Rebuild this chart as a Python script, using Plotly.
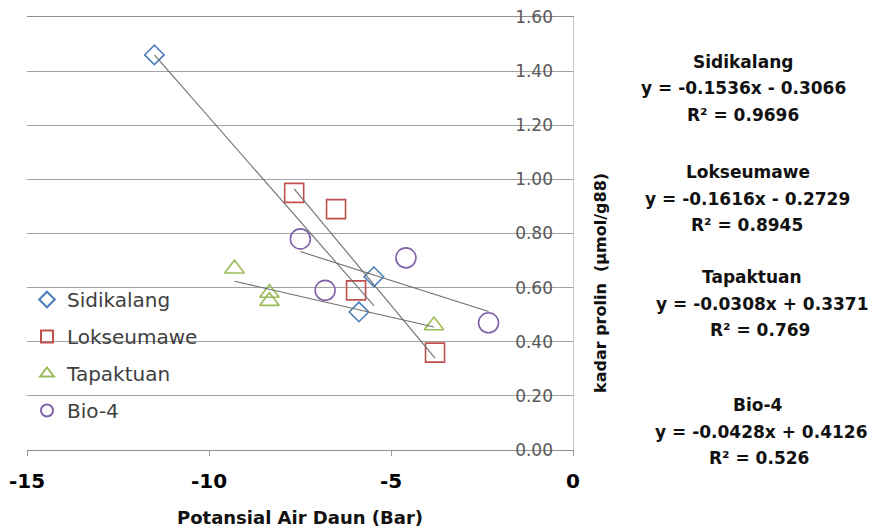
import plotly.graph_objects as go

# ---- data ----
series_names = ["Sidikalang", "Lokseumawe", "Tapaktuan", "Bio-4"]
sidikalang_x = [-11.5, -5.47, -5.88]
sidikalang_y = [1.46, 0.64, 0.51]
lokseumawe_x = [-7.66, -6.51, -5.96, -3.79]
lokseumawe_y = [0.95, 0.89, 0.59, 0.36]
tapaktuan_x = [-9.30, -8.34, -8.34, -3.82]
tapaktuan_y = [0.67, 0.58, 0.55, 0.46]
bio4_x = [-7.49, -6.81, -4.59, -2.32]
bio4_y = [0.78, 0.59, 0.71, 0.47]

slopes = [-0.1536, -0.1616, -0.0308, -0.0428]
intercepts = [-0.3066, -0.2729, 0.3371, 0.4126]
eq_texts = ["y = -0.1536x - 0.3066", "y = -0.1616x - 0.2729",
            "y = -0.0308x + 0.3371", "y = -0.0428x + 0.4126"]
r2_texts = ["R² = 0.9696", "R² = 0.8945", "R² = 0.769", "R² = 0.526"]

x_ticks = [-15, -10, -5, 0]
y_ticks = [0.0, 0.2, 0.4, 0.6, 0.8, 1.0, 1.2, 1.4, 1.6]

# ---- styles ----
colors = ["#4A7EBB", "#C0504D", "#9BBB59", "#7F63A8"]
symbols = ["diamond-open", "square-open", "triangle-up-open", "circle-open"]
sizes = [15, 19, 17, 20]

xs = [sidikalang_x, lokseumawe_x, tapaktuan_x, bio4_x]
ys = [sidikalang_y, lokseumawe_y, tapaktuan_y, bio4_y]

fig = go.Figure()
for i, name in enumerate(series_names):
    fig.add_trace(go.Scatter(
        x=xs[i], y=ys[i], mode="markers", name=name, legendgroup=name,
        marker=dict(symbol=symbols[i], size=sizes[i], color=colors[i],
                    line=dict(width=1.6, color=colors[i])),
    ))
# linear trendlines (from the fitted equations), drawn on the label axis y2 (same scale as y)
for i, name in enumerate(series_names):
    x0, x1 = min(xs[i]), max(xs[i])
    fig.add_trace(go.Scatter(
        x=[x0, x1], y=[slopes[i] * x0 + intercepts[i], slopes[i] * x1 + intercepts[i]],
        mode="lines", showlegend=False, hoverinfo="skip", yaxis="y2",
        line=dict(color="#6E6E6E", width=1.1),
    ))

L, R, T, B = 27, 306, 17, 78
W, H = 879, 528
pw, ph = W - L - R, H - T - B

def px_x(p):
    return (p - L) / pw

def px_y(p):
    return (H - B - p) / ph

bold = "DejaVu Sans"
annotations = []
block_titles_y = [62, 172, 277, 405]
block_x = [(743, 743, 743), (748, 747, 747), (752, 762, 760), (758, 761, 759)]
line_gap = 26.5
for i, name in enumerate(series_names):
    texts = [name, eq_texts[i], r2_texts[i]]
    for j, t in enumerate(texts):
        annotations.append(dict(
            text="<b>" + t + "</b>", xref="paper", yref="paper",
            x=px_x(block_x[i][j]), y=px_y(block_titles_y[i] + j * line_gap),
            xanchor="center", yanchor="middle", showarrow=False,
            font=dict(family=bold, size=17, color="#111111"),
        ))
annotations.append(dict(
    text="<b>kadar prolin  (µmol/g88)</b>", xref="paper", yref="paper",
    x=px_x(600), y=px_y(283), textangle=-90, showarrow=False,
    xanchor="center", yanchor="middle",
    font=dict(family=bold, size=16, color="#111111"),
))

fig.update_layout(
    width=W, height=H,
    margin=dict(l=L, r=R, t=T, b=B, autoexpand=False),
    paper_bgcolor="white", plot_bgcolor="white",
    font=dict(family="DejaVu Sans"),
    showlegend=True,
    legend=dict(
        x=0.0, y=px_y(280), xanchor="left", yanchor="top",
        bgcolor="rgba(0,0,0,0)", font=dict(family="DejaVu Sans", size=20, color="#404040"),
        tracegroupgap=8, itemsizing="constant",
    ),
    xaxis=dict(
        range=[-15, 0], tickvals=x_ticks, ticktext=[str(v) for v in x_ticks],
        showgrid=False, zeroline=False,
        showline=True, mirror=True, linecolor="#8E8E8E", linewidth=1.4,
        ticks="outside", ticklen=5, tickcolor="#9a9a9a", tickwidth=1.2,
        tickfont=dict(family=bold, size=20, color="#000000", weight="bold"),
        ticklabelstandoff=8,
        title=dict(text="<b>Potansial Air Daun (Bar)</b>", standoff=20,
                   font=dict(family=bold, size=18, color="#111111")),
    ),
    yaxis=dict(
        range=[0, 1.6], tickvals=y_ticks,
        side="right", showticklabels=False,
        showgrid=True, gridcolor="#A2A2A2", gridwidth=1.3,
        zeroline=False, showline=True, linecolor="#C8C8C8", linewidth=1.2,
        ticks="",
    ),
    yaxis2=dict(
        overlaying="y", matches="y", range=[0, 1.6],
        tickvals=y_ticks, ticktext=["%.2f" % v for v in y_ticks],
        side="left", anchor="free", position=px_x(553),
        showgrid=False, zeroline=False, showline=False, ticks="",
        tickfont=dict(family="DejaVu Sans", size=17, color="#595959"),
    ),
    annotations=annotations,
)

fig.write_html("out.html", config={"displayModeBar": False},
               post_script="document.body.style.margin='0';document.body.style.padding='0';")
